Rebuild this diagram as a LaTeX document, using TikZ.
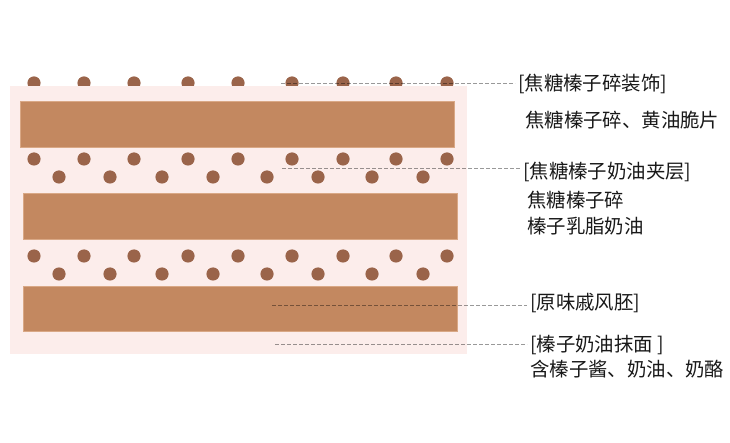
\documentclass[tikz,border=0pt]{standalone}
\usepackage{fontspec}
\setmainfont{Noto Sans CJK SC}
\definecolor{cakepink}{HTML}{FCEDEB}
\definecolor{spongebrown}{HTML}{C38860}
\definecolor{spongeedge}{HTML}{D9A886}
\definecolor{nutbrown}{HTML}{9A644A}
\begin{document}
\begin{tikzpicture}[
x=1pt,y=-1pt,
sponge/.style={fill=spongebrown,draw=spongeedge,line width=0.6pt},
crumb/.style={fill=nutbrown,draw=none},
leader/.style={draw=black,draw opacity=0.4,line width=0.8pt,dash pattern=on 4pt off 2pt},
note/.style={anchor=west,inner sep=3pt,font=\fontsize{19.4}{23}\selectfont,text=black!90}
]
\useasboundingbox (0,0) rectangle (730,443);
% top decoration, half hidden by the cake
\foreach \x in {34,84,134,188,238,292,343,396,447}
  \fill[crumb] (\x,83) circle (6.6);
\fill[cakepink] (10,86) rectangle (467,354);
% sponge layers
\draw[sponge] (20,101) rectangle (454,147);
\draw[sponge] (23,193) rectangle (457,239);
\draw[sponge] (23,286) rectangle (457,331);
% filling crumbs
\foreach \y in {159,256}
  \foreach \x in {34,84,134,188,238,292,343,396,447}
    \fill[crumb] (\x,\y) circle (6.6);
\foreach \y in {177,274}
  \foreach \x in {59,110,162,213,267,318,372,423}
    \fill[crumb] (\x,\y) circle (6.6);
% labels
\node[note] (deco) at (515,84) {[焦糖榛子碎装饰]};
\node[note] (decotxt) at (522,120) {焦糖榛子碎、黄油脆片};
\node[note] (fill) at (520,172) {[焦糖榛子奶油夹层]};
\node[note] (filltxt) at (524,200) {焦糖榛子碎};
\node[note] (filltxtb) at (524,226) {榛子乳脂奶油};
\node[note] (chiffon) at (527,303) {[原味戚风胚]};
\node[note] (coat) at (527,345) {[榛子奶油抹面 ]};
\node[note] (coattxt) at (527,369) {含榛子酱、奶油、奶酪};
% leaders
\coordinate (decoend) at (281,83);
\coordinate (fillend) at (282,168);
\coordinate (chiffonend) at (272,305);
\coordinate (coatend) at (275,344);
\draw[leader] (decoend) -- (decoend -| deco.west);
\draw[leader] (fillend) -- (fillend -| fill.west);
\draw[leader] (chiffonend) -- (chiffonend -| chiffon.west);
\draw[leader] (coatend) -- (coatend -| coat.west);
\end{tikzpicture}
\end{document}
